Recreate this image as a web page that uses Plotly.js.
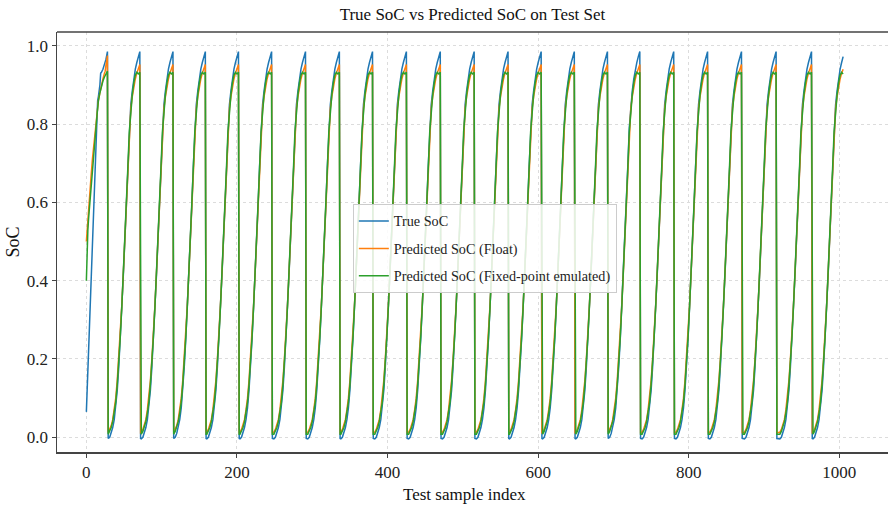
<!DOCTYPE html>
<html>
<head>
<meta charset="utf-8">
<script src="https://cdn.plot.ly/plotly-3.0.1.min.js"></script>
<style>
  html, body { margin: 0; padding: 0; background: #fff; overflow: hidden; }
  #chart { width: 888px; height: 510px; }
</style>
</head>
<body>
<div id="chart"></div>
<script>
// ---- Data ----
const seriesNames = ["True SoC", "Predicted SoC (Float)", "Predicted SoC (Fixed-point emulated)"];
const seriesColors = ["#1f77b4", "#ff7f0e", "#2ca02c"];

// first (partial) charge segment, sample index 0..28
const firstX      = [0, 1, 2, 3, 4, 6, 8, 10, 12, 14, 15, 16, 18, 19, 20, 22, 24, 25, 26, 28];
const firstTrue   = [0.065, 0.12, 0.17, 0.22, 0.28, 0.39, 0.50, 0.60, 0.70, 0.80, 0.86, 0.87, 0.90, 0.93, 0.932, 0.94, 0.95, 0.955, 0.965, 0.985];
const firstFloat  = [0.50, 0.53, 0.56, 0.585, 0.61, 0.66, 0.71, 0.75, 0.79, 0.83, 0.845, 0.86, 0.88, 0.89, 0.90, 0.915, 0.93, 0.935, 0.95, 0.975];
const firstFixed  = [0.40, 0.50, 0.53, 0.56, 0.585, 0.64, 0.69, 0.74, 0.78, 0.82, 0.84, 0.86, 0.88, 0.89, 0.90, 0.91, 0.92, 0.925, 0.93, 0.935];

// sample indices of each peak (just before the drop to ~0)
const peakIndex = [28, 71, 115, 158, 202, 246, 291, 336, 380, 425, 470, 515, 560, 604, 648, 692, 735, 780, 825, 870, 916, 963];
const lastPeakAfterEnd = 1007;   // the final cycle is cut off before its peak
const lastSample = 1005;

// value right after each drop
const bottomTrue = -0.003, bottomFloat = 0.012, bottomFixed = 0.008;

// one charge cycle, read as offsets (samples) before the next peak
const cycleOffset = [-44, -42, -40, -38, -36, -34, -32, -30, -28, -26, -24, -22, -20, -18, -16, -14, -12, -10, -8, -6, -4, -2, 0];
const cycleTrue   = [-0.003, -0.004, 0.0, 0.01, 0.025, 0.045, 0.075, 0.12, 0.18, 0.25, 0.33, 0.41, 0.50, 0.59, 0.69, 0.79, 0.85, 0.885, 0.915, 0.94, 0.957, 0.972, 0.985];
const cycleFloat  = [0.012, 0.013, 0.02, 0.03, 0.045, 0.07, 0.10, 0.145, 0.20, 0.26, 0.335, 0.415, 0.50, 0.59, 0.685, 0.78, 0.84, 0.87, 0.895, 0.915, 0.93, 0.94, 0.952];
const cycleFixed  = [0.008, 0.008, 0.015, 0.025, 0.04, 0.062, 0.09, 0.135, 0.19, 0.255, 0.33, 0.41, 0.50, 0.59, 0.685, 0.78, 0.84, 0.875, 0.905, 0.925, 0.932, 0.928, 0.932];

const xTicks = [0, 200, 400, 600, 800, 1000];
const yTicks = [0.0, 0.2, 0.4, 0.6, 0.8, 1.0];

// ---- assemble the traced lines ----
function assemble(fx, fy, bottom, prof) {
  const x = fx.slice(), y = fy.slice();
  const peaks = peakIndex.concat([lastPeakAfterEnd]);
  for (let i = 0; i < peaks.length - 1; i++) {
    const p = peaks[i], q = peaks[i + 1];
    x.push(p + 1); y.push(bottom);
    for (let j = 0; j < cycleOffset.length; j++) {
      const t = q + cycleOffset[j];
      if (t > p + 1 && t <= lastSample) { x.push(t); y.push(prof[j]); }
    }
  }
  return {x, y};
}
const sTrue  = assemble(firstX, firstTrue,  bottomTrue,  cycleTrue);
const sFloat = assemble(firstX, firstFloat, bottomFloat, cycleFloat);
const sFixed = assemble(firstX, firstFixed, bottomFixed, cycleFixed);

const font = "Liberation Serif, 'Times New Roman', serif";
const traces = [sTrue, sFloat, sFixed].map((s, i) => ({
  type: "scatter", mode: "lines", x: s.x, y: s.y, name: seriesNames[i],
  legendgroup: "g" + i,
  line: {color: seriesColors[i], width: 1.5}
}));

const layout = {
  width: 888, height: 510,
  margin: {l: 57, r: 0, t: 32, b: 58, pad: 0},
  paper_bgcolor: "#fff", plot_bgcolor: "#fff",
  font: {family: font, color: "#222", size: 17},
  title: {text: "True SoC vs Predicted SoC on Test Set", font: {family: font, size: 17, color: "#111"},
          x: 0.5, xref: "paper", xanchor: "center", y: 1 - 14 / 510, yanchor: "middle"},
  xaxis: {
    range: [-39, 1064.6], tickvals: xTicks, ticktext: xTicks.map(String),
    showgrid: true, gridcolor: "#dcdcdc", griddash: "dot", gridwidth: 1, zeroline: false,
    showline: true, linecolor: "#444", linewidth: 1.5, mirror: false,
    ticks: "outside", ticklen: 4, tickwidth: 1, tickcolor: "#444",
    tickfont: {family: font, size: 17, color: "#222"}
  },
  yaxis: {
    range: [-0.0375, 1.035], tickvals: yTicks, ticktext: yTicks.map(v => v.toFixed(1)),
    showgrid: true, gridcolor: "#dcdcdc", griddash: "dot", gridwidth: 1, zeroline: false,
    showline: true, linecolor: "#444", linewidth: 1.5, mirror: false,
    ticks: "outside", ticklen: 4, tickwidth: 1, tickcolor: "#444",
    tickfont: {family: font, size: 17, color: "#222"},
    title: {text: "SoC", font: {family: font, size: 18, color: "#111"}, standoff: 2}
  },
  annotations: [{text: "Test sample index", xref: "paper", yref: "paper",
                 x: (464 - 57) / 831, y: -(494 - 452) / 420, xanchor: "center", yanchor: "middle",
                 showarrow: false, font: {family: font, size: 17, color: "#111"}}],
  shapes: [{type: "line", xref: "paper", yref: "paper", x0: 0, x1: 1, y0: 1, y1: 1,
            line: {color: "#444", width: 1.5}}],
  showlegend: true,
  legend: {x: 0.356, y: 0.59, xanchor: "left", yanchor: "top",
           bgcolor: "rgba(255,255,255,0.85)", bordercolor: "#cccccc", borderwidth: 1,
           font: {family: font, size: 14.2, color: "#222"}, tracegroupgap: 6,
           traceorder: "grouped"}
};

Plotly.newPlot("chart", traces, layout, {displayModeBar: false, staticPlot: true});
</script>
</body>
</html>
